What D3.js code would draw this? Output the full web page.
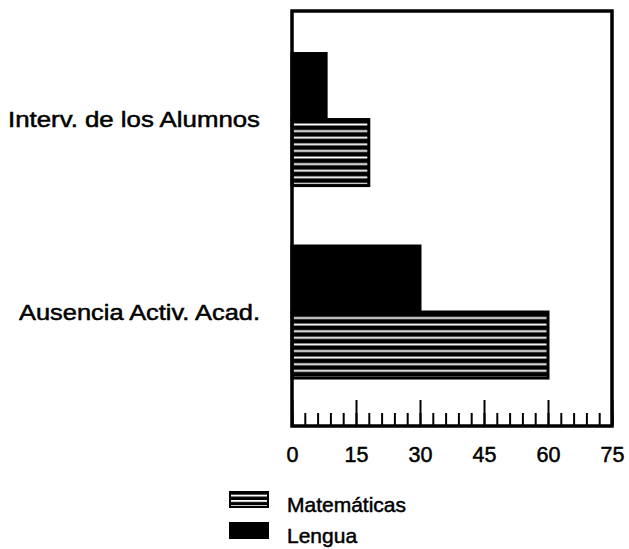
<!DOCTYPE html>
<html>
<head>
<meta charset="utf-8">
<script src="https://cdn.jsdelivr.net/npm/d3@7/dist/d3.min.js"></script>
<style>
  html, body { margin: 0; padding: 0; background: #fff; }
  svg { display: block; font-family: "Liberation Sans", Arial, Helvetica, sans-serif; }
  .lbl { fill: #000; stroke: #000; stroke-width: 0.5px; }
</style>
</head>
<body>
<svg id="chart" width="629" height="549"></svg>
<script>
// Activity categories (top to bottom)
const categories = ["Interv. de los Alumnos", "Ausencia Activ. Acad."];
// Series per category
const seriesNames = ["Lengua", "Matemáticas"];
const lengua = [8, 30];
const matematicas = [18, 60];
// Axis ticks
const majorTicks = [0, 15, 30, 45, 60, 75];
const minorTicks = d3.range(0, 76, 3);

const svg = d3.select("#chart");
const plot = { left: 292, right: 612, top: 11, bottom: 426 };

const x = d3.scaleLinear().domain([0, 75]).range([plot.left, plot.right]);
const y = d3.scaleBand().domain(categories)
  .range([plot.top, plot.bottom])
  .paddingInner(0.314).paddingOuter(0.235).align(0.47);
const ySub = d3.scaleBand().domain(seriesNames).range([0, y.bandwidth()]);

const rows = categories.map((c, i) => ({
  cat: c,
  values: [
    { key: "Lengua", v: lengua[i] },
    { key: "Matemáticas", v: matematicas[i] }
  ]
}));

const defs = svg.append("defs");
function stripePattern(id, y0, period) {
  const p = defs.append("pattern").attr("id", id)
    .attr("patternUnits", "userSpaceOnUse")
    .attr("x", 0).attr("y", y0).attr("width", 8).attr("height", period);
  p.append("rect").attr("width", 8).attr("height", period).attr("fill", "#000");
  p.append("rect").attr("y", period * 0.5).attr("width", 8).attr("height", 1.9).attr("fill", "#fff");
}

// Bars
rows.forEach((r, i) => {
  const g = svg.append("g").attr("transform", `translate(0,${y(r.cat)})`);
  r.values.forEach(d => {
    const by = ySub(d.key), bh = ySub.bandwidth();
    let fill = "#000";
    if (d.key === "Matemáticas") {
      const pid = "stripes" + i;
      stripePattern(pid, y(r.cat) + by, bh / 10);
      fill = `url(#${pid})`;
    }
    g.append("rect")
      .attr("x", x(0)).attr("y", by)
      .attr("width", x(d.v) - x(0)).attr("height", bh)
      .attr("fill", fill)
      .attr("stroke", "#000").attr("stroke-width", 3);
  });
});

// Frame
svg.append("rect")
  .attr("x", plot.left).attr("y", plot.top)
  .attr("width", plot.right - plot.left).attr("height", plot.bottom - plot.top)
  .attr("fill", "none").attr("stroke", "#000").attr("stroke-width", 3.5);

// Minor ticks
const minorAxis = svg.append("g").attr("transform", `translate(0,${plot.bottom})`)
  .call(d3.axisBottom(x).tickValues(minorTicks).tickSize(-13).tickFormat(""));
minorAxis.select(".domain").remove();
minorAxis.selectAll("line").attr("stroke", "#000").attr("stroke-width", 2);

// Major ticks with labels
const majorAxis = svg.append("g").attr("transform", `translate(0,${plot.bottom})`)
  .call(d3.axisBottom(x).tickValues(majorTicks).tickSize(-26).tickPadding(21).tickFormat(d3.format("d")));
majorAxis.select(".domain").remove();
majorAxis.selectAll("line").attr("stroke", "#000").attr("stroke-width", 2);
majorAxis.selectAll("text")
  .attr("class", "lbl")
  .attr("font-family", "\"Liberation Sans\", Arial, Helvetica, sans-serif")
  .attr("font-size", 21.5);

// Category labels (slightly widened lettering)
const labelWidths = [252, 241];
svg.append("g").selectAll("text").data(categories).enter().append("text")
  .attr("class", "lbl")
  .attr("x", 260)
  .attr("y", d => y(d) + y.bandwidth() / 2)
  .attr("dy", "0.35em")
  .attr("text-anchor", "end")
  .attr("font-size", 21.5)
  .attr("textLength", (d, i) => labelWidths[i])
  .attr("lengthAdjust", "spacingAndGlyphs")
  .text(d => d);

// Legend
const legend = svg.append("g");
const legendItems = ["Matemáticas", "Lengua"];
legendItems.forEach((name, i) => {
  const ly = 492 + i * 31;
  let fill = "#000";
  if (name === "Matemáticas") {
    stripePattern("legendStripes", ly, 5.3);
    fill = "url(#legendStripes)";
  }
  legend.append("rect").attr("x", 230).attr("y", ly).attr("width", 38).attr("height", 15)
    .attr("fill", fill).attr("stroke", "#000").attr("stroke-width", 2);
  legend.append("text").attr("class", "lbl").attr("x", 287).attr("y", ly + 20)
    .attr("font-size", 21).text(name);
});
</script>
</body>
</html>
